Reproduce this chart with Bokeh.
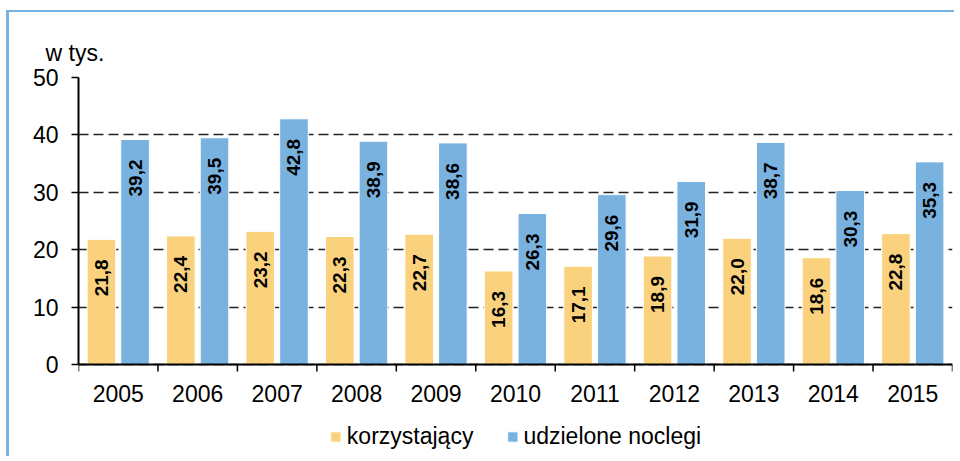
import numpy as np
from math import pi
from bokeh.plotting import figure
from bokeh.models import (ColumnDataSource, Range1d, FixedTicker, Legend, LegendItem, Span)
from bokeh.transform import dodge
from bokeh.core.properties import value
from bokeh.embed import file_html
from bokeh.resources import INLINE

years = ["2005", "2006", "2007", "2008", "2009", "2010", "2011", "2012", "2013", "2014", "2015"]
korzystajacy = [21.8, 22.4, 23.2, 22.3, 22.7, 16.3, 17.1, 18.9, 22.0, 18.6, 22.8]
noclegi = [39.2, 39.5, 42.8, 38.9, 38.6, 26.3, 29.6, 31.9, 38.7, 30.3, 35.3]
y_ticks = [0, 10, 20, 30, 40, 50]
Y_MAX = 50

FONT = "Liberation Sans"
YELLOW = "#FAD27E"
BLUE = "#79B1DF"
FRAME_BLUE = "#7BB3E0"

# layout (pixels)
W_FIG, H_FIG = 948, 446
B_LEFT, B_RIGHT, B_TOP, B_BOTTOM = 69, 5, 65, 2
AXIS_PX = 287            # pixel height of the 0..50 value band
TICK_PX = 7
frame_h = H_FIG - B_TOP - B_BOTTOM
px_per_unit = AXIS_PX / Y_MAX
y_min = -(frame_h - AXIS_PX) / px_per_unit

idx = np.arange(len(years))
centers = idx + 0.5
src = ColumnDataSource(dict(
    x=centers,
    year=years,
    k=korzystajacy,
    n=noclegi,
    k_lbl=[f"{v:.1f}".replace(".", ",") for v in korzystajacy],
    n_lbl=[f"{v:.1f}".replace(".", ",") for v in noclegi],
))
edges = np.arange(len(years) + 1)

p = figure(width=W_FIG, height=H_FIG, x_range=Range1d(0, len(years)), y_range=Range1d(y_min, Y_MAX),
           output_backend="svg", toolbar_location=None, x_axis_location=None,
           min_border_left=B_LEFT, min_border_right=B_RIGHT, min_border_top=B_TOP,
           min_border_bottom=B_BOTTOM)
p.outline_line_color = None
p.styles = {"border-left": f"3px solid {FRAME_BLUE}", "border-top": f"2px solid {FRAME_BLUE}",
            "margin-left": "6px", "margin-top": "10px"}

OFF = 0.212
W = 0.36
r1 = p.vbar(x=dodge("x", -OFF), top="k", width=W, source=src, fill_color=YELLOW,
            line_color="white", line_width=1)
r2 = p.vbar(x=dodge("x", OFF), top="n", width=W, source=src, fill_color=BLUE,
            line_color="white", line_width=1)

for col, lbl, off in (("k", "k_lbl", -OFF), ("n", "n_lbl", OFF)):
    p.text(x=dodge("x", off), y=col, text=lbl, source=src, angle=pi / 2,
           text_align="right", text_baseline="middle", y_offset=20,
           text_font=value(FONT), text_font_style="bold", text_font_size="19px",
           text_color="black")

# category (x) axis drawn at value 0
p.add_layout(Span(location=0, dimension="width", line_color="black", line_width=2))
p.segment(x0=edges, y0=np.zeros(len(edges)), x1=edges,
          y1=np.full(len(edges), -TICK_PX / px_per_unit), line_color="black", line_width=1.5)
p.text(x="x", y=0, text="year", source=src, text_align="center", text_baseline="top",
       y_offset=20, text_font=value(FONT), text_font_size="23px", text_color="black")

ya = p.yaxis[0]
ya.ticker = FixedTicker(ticks=y_ticks)
ya.bounds = (0, Y_MAX)
ya.major_tick_line_color = "black"
ya.major_tick_line_width = 1.5
ya.major_tick_out = TICK_PX
ya.major_tick_in = 0
ya.minor_tick_line_color = None
ya.axis_line_color = "black"
ya.axis_line_width = 2
ya.major_label_text_font = FONT
ya.major_label_text_font_size = "23px"
ya.major_label_text_color = "black"
ya.major_label_standoff = 13

p.xgrid.grid_line_color = None
p.ygrid.grid_line_color = "#222222"
p.ygrid.grid_line_dash = "10 5"
p.ygrid.grid_line_width = 1.3

p.title.text = "w tys."
p.title.text_font = FONT
p.title.text_font_size = "23px"
p.title.text_font_style = "normal"
p.title.text_color = "black"
p.title.align = "left"
p.title.offset = -33
p.title.standoff = 24

legend = Legend(items=[LegendItem(label="korzystający", renderers=[r1]),
                       LegendItem(label="udzielone noclegi", renderers=[r2])],
                orientation="horizontal", location="bottom_center",
                border_line_color=None, background_fill_alpha=0,
                glyph_width=13, glyph_height=13, label_standoff=5, spacing=32,
                label_text_font=FONT, label_text_font_size="23px", label_text_color="black",
                padding=2, margin=6)
p.add_layout(legend)

open("out.html", "w").write(file_html(p, INLINE))
